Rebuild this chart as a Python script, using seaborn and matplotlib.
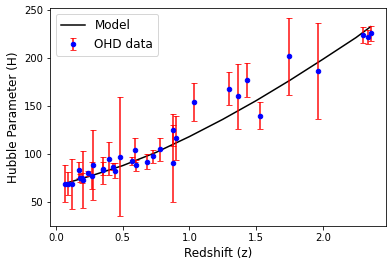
import numpy as np
import pandas as pd
import seaborn as sns
import matplotlib
matplotlib.use("Agg")
import matplotlib.pyplot as plt

# observed Hubble data (z, H, sigma)
z_obs = [0.07, 0.09, 0.12, 0.17, 0.179, 0.199, 0.2, 0.24, 0.27, 0.28,
         0.35, 0.352, 0.4, 0.43, 0.44, 0.48, 0.57, 0.593, 0.6, 0.68,
         0.73, 0.781, 0.875, 0.88, 0.9, 1.037, 1.3, 1.363, 1.43, 1.53,
         1.75, 1.965, 2.3, 2.34, 2.36]
H_obs = [69, 69, 68.6, 83, 75, 75, 72.9, 79.69, 77, 88.8,
         84.4, 83, 95, 86.45, 82.6, 97, 92.4, 104, 87.9, 92,
         97.3, 105, 125, 90, 117, 154, 168, 160, 177, 140,
         202, 186.5, 224, 222, 226]
H_err = [19.6, 12, 26.2, 8, 4, 5, 29.6, 2.65, 14, 36.6,
         7, 14, 17, 3.68, 7.8, 62, 4.5, 13, 6.1, 8,
         7, 12, 17, 40, 23, 20, 17, 33.6, 18, 14,
         40, 50.4, 8, 7, 8]

# model curve
z_model = [0.07, 0.25, 0.5, 0.75, 1.0, 1.25, 1.5, 1.75, 2.0, 2.25, 2.36]
H_model = [69.2, 76.5, 87.7, 101.5, 118, 136, 155.5, 176.5, 198.7, 221.5, 232.9]

model = pd.DataFrame({"z": z_model, "H": H_model})

fig, ax = plt.subplots(figsize=(392 / 72, 267 / 72), dpi=72)
fig.subplots_adjust(left=50 / 392, right=386 / 392, top=1 - 8 / 267, bottom=1 - 226 / 267)

sns.lineplot(data=model, x="z", y="H", color="black", label="Model", ax=ax)
cont = ax.errorbar(z_obs, H_obs, yerr=H_err, fmt="o", color="blue", markersize=4.5,
                   ecolor="red", elinewidth=1.8, capsize=3, label="OHD data")
for art in cont[1] + cont[2]:
    art.set_alpha(0.8)

ax.set_xlabel("Redshift (z)", fontsize=12)
ax.set_ylabel("Hubble Parameter (H)", fontsize=12)
ax.legend(loc="upper left", fontsize=12)

plt.savefig("out.png", dpi=72)
